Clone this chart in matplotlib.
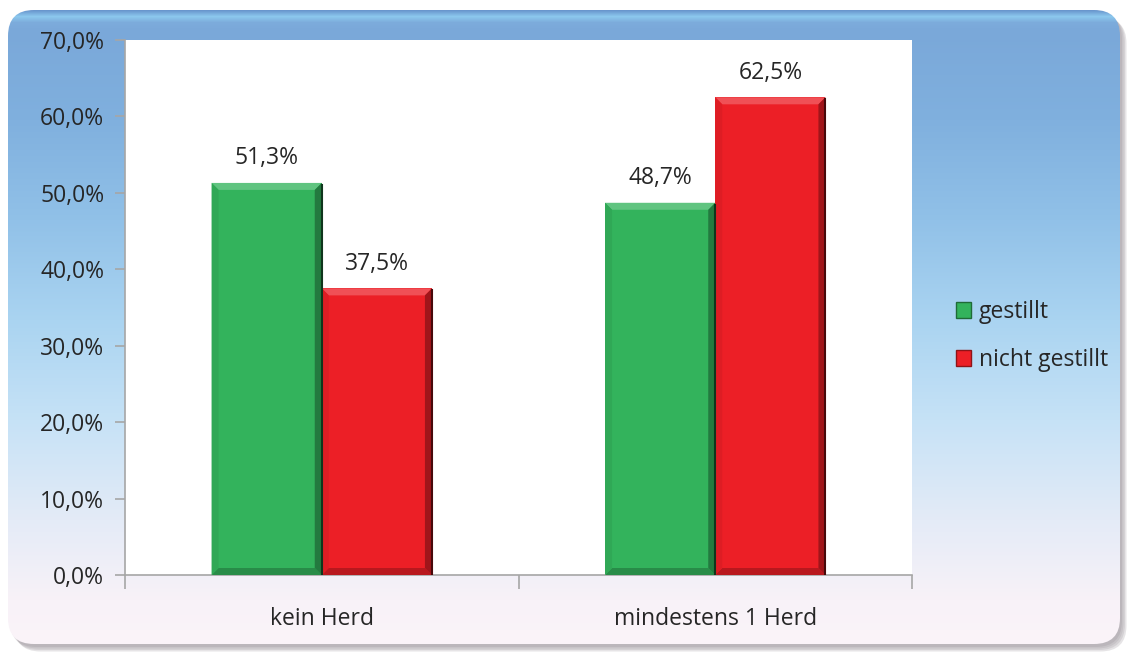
import numpy as np
import matplotlib
matplotlib.use("Agg")
import matplotlib.pyplot as plt
from matplotlib.patches import FancyBboxPatch, Polygon, Patch
from matplotlib.colors import to_rgb

# --- data ---
categories = ["kein Herd", "mindestens 1 Herd"]
series_names = ["gestillt", "nicht gestillt"]
gestillt = [51.3, 48.7]
nicht_gestillt = [37.5, 62.5]
y_ticks = [0, 10, 20, 30, 40, 50, 60, 70]

colors = ["#33b35c", "#ec1f26"]
FS = 16.5

plt.rcParams["font.family"] = ["Open Sans", "DejaVu Sans"]

W, H = 1129, 653
fig = plt.figure(figsize=(W / 100, H / 100), dpi=100)

# --- background panel with vertical gradient and soft shadow ---
bg = fig.add_axes([0, 0, 1, 1])
bg.set_xlim(0, W)
bg.set_ylim(H, 0)
bg.axis("off")

for i, a in enumerate([0.10, 0.10, 0.12, 0.15]):
    sh = FancyBboxPatch((10 + i * 1.5, 13 + i * 1.5), 1112, 634,
                        boxstyle="round,pad=0,rounding_size=26",
                        fc=(0.35, 0.3, 0.35, a), ec="none", zorder=0)
    bg.add_patch(sh)

panel = FancyBboxPatch((8, 10), 1112, 634, boxstyle="round,pad=0,rounding_size=26",
                       fc="none", ec="none", zorder=1)
bg.add_patch(panel)

stops_y = np.array([10, 16, 22, 30, 120, 220, 320, 420, 520, 600, 645])
stops_c = np.array([
    (105, 150, 205), (140, 200, 238), (125, 172, 220), (122, 168, 217),
    (128, 176, 222), (145, 193, 232), (170, 212, 241), (198, 226, 246),
    (228, 235, 247), (248, 242, 248), (251, 244, 249)]) / 255.0
ys = np.arange(0, H)
grad = np.stack([np.interp(ys, stops_y, stops_c[:, k]) for k in range(3)], axis=1)
img = np.repeat(grad[:, None, :], 2, axis=1)
im = bg.imshow(img, extent=(0, W, H, 0), aspect="auto", zorder=1, interpolation="bilinear")
im.set_clip_path(panel)

# --- plot area ---
L, R, T, B = 125, 912, 40, 575
ax = fig.add_axes([L / W, (H - B) / H, (R - L) / W, (B - T) / H])
ax.set_facecolor("white")
ax.set_xlim(-0.5, 1.5)
ax.set_ylim(0, 70)

x = np.arange(len(categories))
bw = 0.28
b1 = ax.bar(x - bw / 2, gestillt, bw, color=colors[0], zorder=2, linewidth=0)
b2 = ax.bar(x + bw / 2, nicht_gestillt, bw, color=colors[1], zorder=2, linewidth=0)


def shade(c, f):
    r, g, b = to_rgb(c)
    if f >= 0:
        return (r + (1 - r) * f, g + (1 - g) * f, b + (1 - b) * f)
    f = -f
    return (r * (1 - f), g * (1 - f), b * (1 - f))


px_x = (ax.get_xlim()[1] - ax.get_xlim()[0]) / (R - L)
px_y = (ax.get_ylim()[1] - ax.get_ylim()[0]) / (B - T)


def bevel(rect, color):
    x0, y0 = rect.get_x(), rect.get_y()
    x1, y1 = x0 + rect.get_width(), y0 + rect.get_height()
    dx, dy = 7 * px_x, 7 * px_y
    top = [(x0, y1), (x1, y1), (x1 - dx, y1 - dy), (x0 + dx, y1 - dy)]
    bottom = [(x0, y0), (x1, y0), (x1 - dx, y0 + dy), (x0 + dx, y0 + dy)]
    left = [(x0, y0), (x0, y1), (x0 + dx, y1 - dy), (x0 + dx, y0 + dy)]
    right = [(x1, y0), (x1, y1), (x1 - dx, y1 - dy), (x1 - dx, y0 + dy)]
    for poly, c in [(top, shade(color, 0.22)), (bottom, shade(color, -0.22)),
                    (left, shade(color, -0.06)), (right, shade(color, -0.32))]:
        ax.add_patch(Polygon(poly, closed=True, fc=c, ec="none", zorder=3))
    ax.plot([x1, x1], [y0, y1 - dy * 0.3], color=shade(color, -0.7), lw=1.5, zorder=4)


for bars, c in [(b1, colors[0]), (b2, colors[1])]:
    for r in bars:
        bevel(r, c)

for bars, vals in [(b1, gestillt), (b2, nicht_gestillt)]:
    for r, v in zip(bars, vals):
        ax.annotate(f"{v:.1f}%".replace(".", ","), (r.get_x() + r.get_width() / 2, v),
                    xytext=(0, 9), textcoords="offset points", ha="center", va="bottom",
                    fontsize=FS, color="#262626", zorder=5)

# axes styling
for s in ["top", "right"]:
    ax.spines[s].set_visible(False)
for s in ["left", "bottom"]:
    ax.spines[s].set_color("#a6a6a6")
    ax.spines[s].set_linewidth(1.2)

ax.set_yticks(y_ticks)
ax.set_yticklabels([f"{t:.1f}%".replace(".", ",") for t in y_ticks])
ax.tick_params(axis="y", length=7, width=1.2, color="#a6a6a6", pad=8,
               labelsize=FS, labelcolor="#262626")
ax.set_xticks(x)
ax.set_xticklabels(categories)
ax.tick_params(axis="x", which="major", length=0, pad=23, labelsize=FS, labelcolor="#262626")
ax.set_xticks([-0.5, 0.5, 1.5], minor=True)
ax.tick_params(axis="x", which="minor", length=10, width=1.2, color="#a6a6a6")

# legend
handles = [Patch(facecolor=colors[0], edgecolor=shade(colors[0], -0.4), linewidth=1),
           Patch(facecolor=colors[1], edgecolor=shade(colors[1], -0.4), linewidth=1)]
fig.legend(handles, series_names, loc="center left", bbox_to_anchor=(935 / W, 1 - 336 / H),
           frameon=False, fontsize=FS, handlelength=0.65, handleheight=0.65,
           handletextpad=0.35, labelspacing=1.05, labelcolor="#262626")

fig.savefig("out.png", dpi=100)
